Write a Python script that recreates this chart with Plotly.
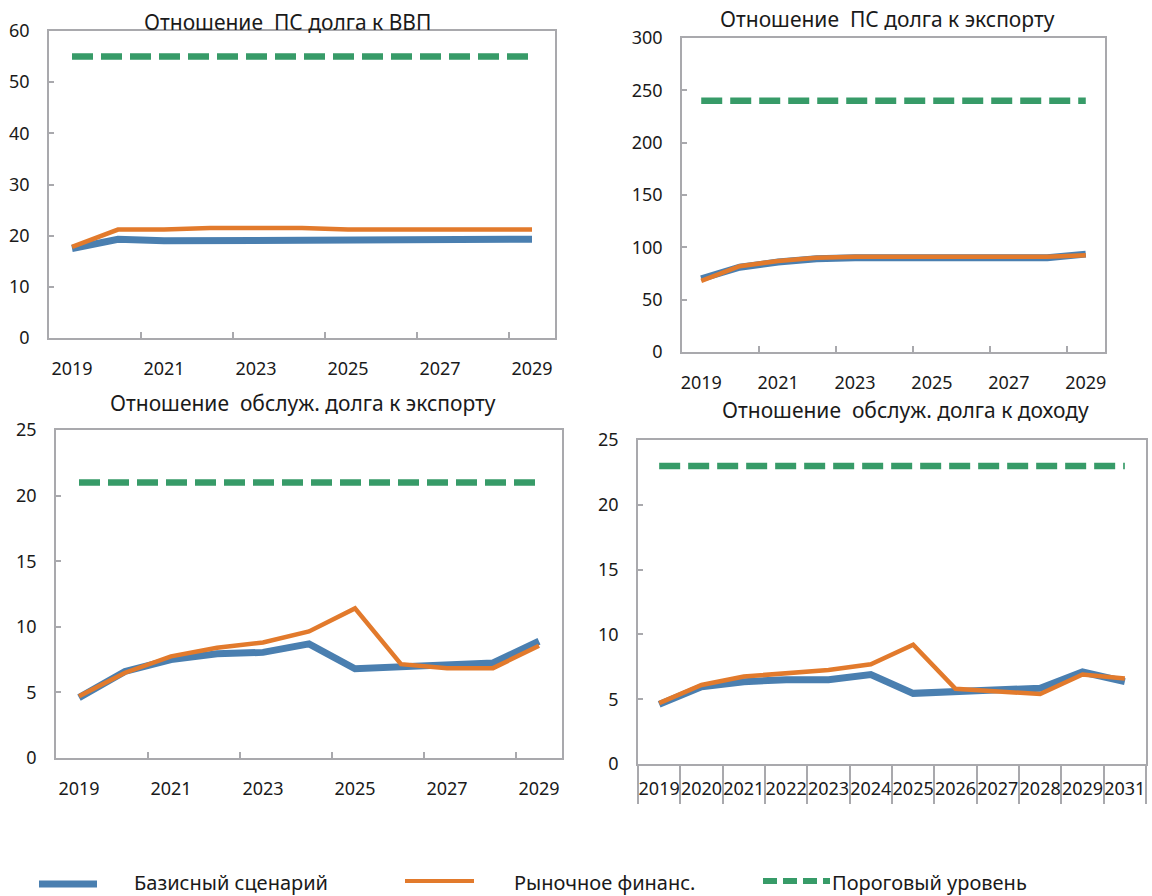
import plotly.graph_objects as go

# ---- data ----
years11 = ["2019", "2020", "2021", "2022", "2023", "2024", "2025", "2026", "2027", "2028", "2029"]
years12 = ["2019", "2020", "2021", "2022", "2023", "2024", "2025", "2026", "2027", "2028", "2029", "2031"]

# PV of debt to GDP
gdp_base = [17.5, 19.3, 19.0, 19.0, 19.3, 19.3, 19.3, 19.3, 19.3, 19.3, 19.3]
gdp_market = [17.8, 21.2, 21.2, 21.5, 21.5, 21.5, 21.2, 21.2, 21.2, 21.2, 21.2]
gdp_threshold = [55] * 11

# PV of debt to exports
exp_base = [70, 81, 86, 89, 90, 90, 90, 90, 90, 90, 93.5]
exp_market = [68, 82, 87, 90, 91, 91, 91, 91, 91, 91, 92.5]
exp_threshold = [240] * 11

# Debt service to exports
dse_base = [4.6, 6.6, 7.5, 7.95, 8.05, 8.7, 6.8, 6.95, 7.05, 7.25, 8.9]
dse_market = [4.7, 6.5, 7.75, 8.4, 8.8, 9.65, 11.4, 7.15, 6.85, 6.85, 8.55]
dse_threshold = [21] * 11

# Debt service to revenue
dsr_base = [4.6, 5.95, 6.35, 6.5, 6.5, 6.9, 5.45, 5.55, 5.7, 5.85, 7.1, 6.35]
dsr_market = [4.7, 6.1, 6.75, 7.0, 7.25, 7.7, 9.2, 5.8, 5.6, 5.4, 6.9, 6.6]
dsr_threshold = [23] * 12

titles = [
    "Отношение  ПС долга к ВВП",
    "Отношение  ПС долга к экспорту",
    "Отношение  обслуж. долга к экспорту",
    "Отношение  обслуж. долга к доходу",
]
series_names = ["Базисный сценарий", "Рыночное финанс.", "Пороговый уровень"]

# ---- styling ----
W, H = 1152, 896
FONT = "Noto Sans"
BLUE = "#4A7FB0"
ORANGE = "#E27A2C"
GREEN = "#379B68"
AXIS = "#A9A9AD"
TXT = "#1a1a1a"


def fx(px):
    return px / W


def fy(py):
    return 1 - py / H


# plot boxes in pixels: (left, right, top, bottom)
boxes = [
    (49, 555, 31, 338),
    (682, 1105, 38, 352),
    (56, 562, 430, 758),
    (638, 1146, 440, 764),
]

panels = [
    (years11, gdp_base, gdp_market, gdp_threshold, [0, 60], 10),
    (years11, exp_base, exp_market, exp_threshold, [0, 300], 50),
    (years11, dse_base, dse_market, dse_threshold, [0, 25], 5),
    (years12, dsr_base, dsr_market, dsr_threshold, [0, 25], 5),
]

fig = go.Figure()
layout = {}

for i, (cats, base, market, thr, yr, dt) in enumerate(panels):
    n = "" if i == 0 else str(i + 1)
    xa, ya = "x" + n, "y" + n
    fig.add_trace(go.Scatter(x=cats, y=base, name=series_names[0], mode="lines",
                             line=dict(color=BLUE, width=7), xaxis=xa, yaxis=ya, showlegend=False))
    fig.add_trace(go.Scatter(x=cats, y=market, name=series_names[1], mode="lines",
                             line=dict(color=ORANGE, width=4.5), xaxis=xa, yaxis=ya, showlegend=False))
    fig.add_trace(go.Scatter(x=cats, y=thr, name=series_names[2], mode="lines",
                             line=dict(color=GREEN, width=6.5, dash="21px,8px"),
                             xaxis=xa, yaxis=ya, showlegend=False))

    l, r, t, b = boxes[i]
    every = (i == 3)
    xaxis = dict(
        domain=[fx(l), fx(r)], anchor=ya, type="category", categoryarray=cats,
        categoryorder="array", range=[-0.5, len(cats) - 0.5],
        tickvals=cats if every else cats[::2], tickson="boundaries", tickangle=0,
        showline=True, mirror=True, linecolor=AXIS, linewidth=1.5,
        showgrid=False, zeroline=False, tickcolor=AXIS, tickwidth=1.5,
        tickfont=dict(family=FONT, size=18, color=TXT), fixedrange=True,
        automargin=False,
    )
    if every:
        xaxis.update(ticks="outside", ticklen=38, ticklabelstandoff=8)
    else:
        xaxis.update(ticks="inside", ticklen=6, ticklabelstandoff=14)
    yaxis = dict(
        domain=[fy(b), fy(t)], anchor=xa, range=yr, dtick=dt, tick0=0,
        showline=True, mirror=True, linecolor=AXIS, linewidth=1.5,
        showgrid=False, zeroline=False, ticks="inside", ticklen=5,
        tickcolor=AXIS, tickwidth=1.5, ticklabelstandoff=14,
        tickfont=dict(family=FONT, size=18, color=TXT), fixedrange=True,
        automargin=False,
    )
    layout["xaxis" + n] = xaxis
    layout["yaxis" + n] = yaxis

# panel titles
title_pos = [(287, 22), (887, 19), (303, 403), (905, 410)]
annotations = []
for (cx, cy), txt in zip(title_pos, titles):
    annotations.append(dict(text=txt, x=fx(cx), y=fy(cy), xref="paper", yref="paper",
                            xanchor="center", yanchor="middle", showarrow=False,
                            font=dict(family=FONT, size=21, color=TXT)))

# legend row drawn along the bottom of the figure
legend_keys = [
    (39, 97, 884, BLUE, 7, "solid", 133),
    (405, 474, 881, ORANGE, 4, "solid", 513),
    (763, 830, 881, GREEN, 6, "14px,6px", 831),
]
shapes = []
for (x0, x1, yk, col, w, dash, tx), name in zip(legend_keys, series_names):
    shapes.append(dict(type="line", xref="paper", yref="paper", x0=fx(x0), x1=fx(x1),
                       y0=fy(yk), y1=fy(yk), line=dict(color=col, width=w, dash=dash)))
    annotations.append(dict(text=name, x=fx(tx), y=fy(882), xref="paper", yref="paper",
                            xanchor="left", yanchor="middle", showarrow=False, borderpad=0,
                            font=dict(family=FONT, size=20, color=TXT)))

fig.update_layout(
    width=W, height=H, margin=dict(l=0, r=0, t=0, b=0),
    paper_bgcolor="white", plot_bgcolor="white",
    annotations=annotations, shapes=shapes, showlegend=False,
    **layout,
)

fig.write_html("out.html")
